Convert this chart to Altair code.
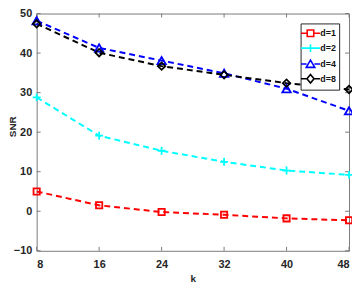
import altair as alt
import pandas as pd

# ---- data ----
k_values = [8, 16, 24, 32, 40, 48]
series_names = ["d=1", "d=2", "d=4", "d=8"]
snr_d1 = [5.0, 1.5, -0.2, -0.9, -1.8, -2.3]
snr_d2 = [28.8, 19.1, 15.3, 12.5, 10.3, 9.2]
snr_d4 = [48.2, 41.3, 38.1, 34.9, 31.0, 25.4]
snr_d8 = [47.4, 40.1, 36.7, 34.5, 32.4, 30.8]
x_ticks = [8, 16, 24, 32, 40, 48]
y_ticks = [-10, 0, 10, 20, 30, 40, 50]

# ---- styles ----
colors = ["#ff0000", "#00ffff", "#0000ff", "#000000"]
marker_paths = [
    "square",
    "M-1,0L1,0M0,-1L0,1",
    "triangle-up",
    "diamond",
]
marker_sizes = [40, 64, 72, 56]
# legend glyphs: short line with the marker in its middle
legend_paths = [
    "M-1.6,0L-0.55,0M0.55,0L1.6,0M-0.55,-0.55L0.55,-0.55L0.55,0.55L-0.55,0.55Z",
    "M-1.6,0L1.6,0M0,-0.65L0,0.65",
    "M-1.6,0L-0.66,0M0.66,0L1.6,0M0,-0.66L0.72,0.58L-0.72,0.58Z",
    "M-1.6,0L-0.6,0M0.6,0L1.6,0M0,-0.72L0.6,0L0,0.72L-0.6,0Z",
]
LEG_SIZE = 144
W, H = 316, 240
FONT = "Liberation Sans"
TXT = "#262626"
AX = "#7a7a7a"

rows = []
for name, vals in zip(series_names, [snr_d1, snr_d2, snr_d4, snr_d8]):
    for k, v in zip(k_values, vals):
        rows.append({"k": k, "snr": v, "series": name})
df = pd.DataFrame(rows)
xt = pd.DataFrame({"k": x_ticks})
yt = pd.DataFrame({"snr": y_ticks})

x_scale = alt.Scale(domain=[8, 48], nice=False, zero=False)
y_scale = alt.Scale(domain=[-10, 50], nice=False, zero=False)

x_enc = alt.X(
    "k:Q", scale=x_scale, title="k",
    axis=alt.Axis(values=x_ticks, domain=False, ticks=False, grid=False,
                  labelPadding=8, labelOverlap=False,
                  titleY=28, titleBaseline="middle"),
)
y_enc = alt.Y(
    "snr:Q", scale=y_scale, title="SNR",
    axis=alt.Axis(values=y_ticks, domain=False, ticks=False, grid=False,
                  labelPadding=5, labelOverlap=False,
                  titleX=-24, titleY=114, titleAngle=270,
                  titleAlign="center", titleBaseline="middle"),
)

line_layers = []
point_layers = []
for name, col, shp, sz in zip(series_names, colors, marker_paths, marker_sizes):
    sub = alt.Chart(df).transform_filter(alt.datum.series == name)
    line_layers.append(
        sub.mark_line(color=col, strokeDash=[6, 4], strokeWidth=2)
        .encode(x=x_enc, y=y_enc)
    )
    point_layers.append(
        sub.mark_point(shape=shp, size=sz, filled=False, color=col,
                       strokeWidth=1.8, opacity=1)
        .encode(x=x_enc, y=y_enc)
    )

leg = alt.Legend(title=None, orient="top-right", offset=10, symbolSize=LEG_SIZE,
                 symbolStrokeWidth=1.6, symbolOpacity=1, symbolOffset=0,
                 labelOffset=3, rowPadding=0, padding=3,
                 strokeColor="#262626", fillColor="#ffffff")
legend_layer = alt.Chart(df).mark_point(filled=False, size=LEG_SIZE, opacity=0).encode(
    x=x_enc, y=y_enc,
    color=alt.Color("series:N", scale=alt.Scale(domain=series_names, range=colors), legend=leg),
    shape=alt.Shape("series:N", scale=alt.Scale(domain=series_names, range=legend_paths), legend=leg),
)

tick_len = 4
t_bottom = alt.Chart(xt).mark_rule(color=AX, strokeWidth=1).encode(
    x=x_enc, y=alt.value(H), y2=alt.value(H - tick_len))
t_top = alt.Chart(xt).mark_rule(color=AX, strokeWidth=1).encode(
    x=x_enc, y=alt.value(0), y2=alt.value(tick_len))
t_left = alt.Chart(yt).mark_rule(color=AX, strokeWidth=1).encode(
    y=y_enc, x=alt.value(0), x2=alt.value(tick_len))
t_right = alt.Chart(yt).mark_rule(color=AX, strokeWidth=1).encode(
    y=y_enc, x=alt.value(W - tick_len), x2=alt.value(W))

chart = alt.layer(
    t_bottom, t_top, t_left, t_right, *line_layers, *point_layers, legend_layer
).properties(
    width=W, height=H,
    autosize=alt.AutoSizeParams(type="none"),
    padding={"left": 29, "top": 4, "right": 3, "bottom": 33},
).configure_view(
    stroke=AX, strokeWidth=1
).configure_axis(
    labelFont=FONT, labelFontSize=11, labelFontWeight="bold", labelColor=TXT,
    titleFont=FONT, titleFontSize=10, titleFontWeight="bold", titleColor=TXT,
).configure_legend(
    labelFont=FONT, labelFontSize=9, labelFontWeight="bold", labelColor="#111111",
    cornerRadius=0,
)

chart.save("out.html", embed_options={"renderer": "svg", "actions": False})
